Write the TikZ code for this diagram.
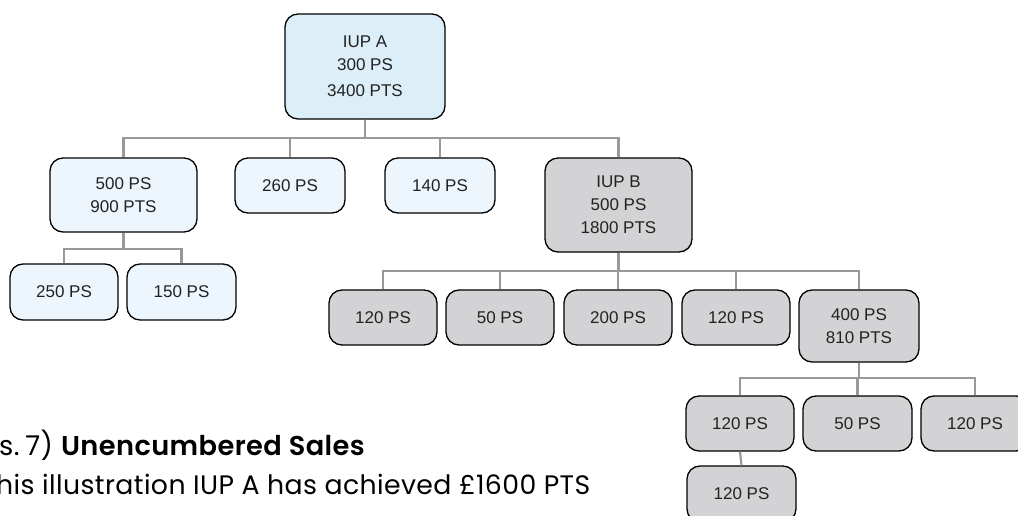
\documentclass[tikz,border=0pt]{standalone}
\usepackage{fontspec}
\setmainfont{Liberation Sans}
\newfontfamily\notefont[LetterSpace=1.5, BoldFont={Poppins SemiBold}]{Poppins}
\usetikzlibrary{calc}

\definecolor{topfill}{HTML}{DCEEF7}
\definecolor{lightfill}{HTML}{EEF6FD}
\definecolor{greyfill}{HTML}{D3D3D5}
\definecolor{linkgrey}{HTML}{999999}
\definecolor{inkdark}{HTML}{222222}

\tikzset{
  box/.style={draw=black, line width=1.3pt, rounded corners=13pt, align=center,
    text=inkdark, font=\fontsize{17}{23}\selectfont, inner sep=0pt},
  topbox/.style={box, fill=topfill},
  lightbox/.style={box, fill=lightfill},
  greybox/.style={box, fill=greyfill},
  link/.style={draw=linkgrey, line width=2.2pt},
  caption/.style={anchor=base west, inner sep=0pt},
}

\begin{document}
\begin{tikzpicture}[x=1pt, y=-1pt]
\useasboundingbox (0,0) rectangle (1018,516);
\clip (0,0) rectangle (1018,516);

% level 0
\node[topbox, minimum width=160pt, minimum height=105pt] (iupA) at (365,66.5)
  {IUP A\\300 PS\\[3pt]3400 PTS};

% level 1
\node[lightbox, minimum width=147pt, minimum height=74pt] (n500) at (123.5,195) {500 PS\\900 PTS};
\node[lightbox, minimum width=110pt, minimum height=55pt] (n260) at (290,185.5) {260 PS};
\node[lightbox, minimum width=110pt, minimum height=55pt] (n140) at (440,185.5) {140 PS};
\node[greybox, minimum width=147pt, minimum height=94pt] (iupB) at (618.5,205) {IUP B\\500 PS\\1800 PTS};

% level 2 under 500 PS
\node[lightbox, minimum width=108pt, minimum height=56pt] (n250) at (64,292) {250 PS};
\node[lightbox, minimum width=109pt, minimum height=56pt] (n150) at (181.5,292) {150 PS};

% level 2 under IUP B
\node[greybox, minimum width=108pt, minimum height=55pt] (b1) at (383,317.5) {120 PS};
\node[greybox, minimum width=108pt, minimum height=55pt] (b2) at (500,317.5) {50 PS};
\node[greybox, minimum width=108pt, minimum height=55pt] (b3) at (618,317.5) {200 PS};
\node[greybox, minimum width=108pt, minimum height=55pt] (b4) at (736,317.5) {120 PS};
\node[greybox, minimum width=120pt, minimum height=72pt] (n400) at (859,326) {400 PS\\810 PTS};

% level 3 under 400 PS
\node[greybox, minimum width=108pt, minimum height=55pt] (c1) at (740,423.5) {120 PS};
\node[greybox, minimum width=109pt, minimum height=55pt] (c2) at (857.5,423.5) {50 PS};
\node[greybox, minimum width=108pt, minimum height=55pt] (c3) at (975,423.5) {120 PS};

% level 4
\node[greybox, minimum width=109pt, minimum height=56pt] (d1) at (741.5,494) {120 PS};

% elbow connectors: down from the parent, along a shared bar, down into each child
\foreach \c in {n500,n260,n140,iupB}
  \draw[link] (iupA.south) -- (iupA.south |- 0,138) -| (\c.north);
\foreach \c in {n250,n150}
  \draw[link] (n500.south) -- (n500.south |- 0,249) -| (\c.north);
\foreach \c in {b1,b2,b3,b4,n400}
  \draw[link] (iupB.south) -- (iupB.south |- 0,271) -| (\c.north);
\foreach \c in {c1,c2,c3}
  \draw[link] (n400.south) -- (n400.south |- 0,378) -| (\c.north);
\draw[link] (c1.south) -- (d1.north);

% caption lines, each fitted to its run length
\node[caption] (cap1) at (-1,455)
  {\resizebox{366pt}{!}{\notefont\fontsize{27.5}{32}\selectfont s.\kern-2pt\ 7)\ \textbf{Unencumbered Sales}}};
\node[caption] (cap2) at (-4,494)
  {\resizebox{594pt}{!}{\notefont\fontsize{26.5}{31}\selectfont his illustration IUP A has achieved £1600 PTS}};
\end{tikzpicture}
\end{document}
